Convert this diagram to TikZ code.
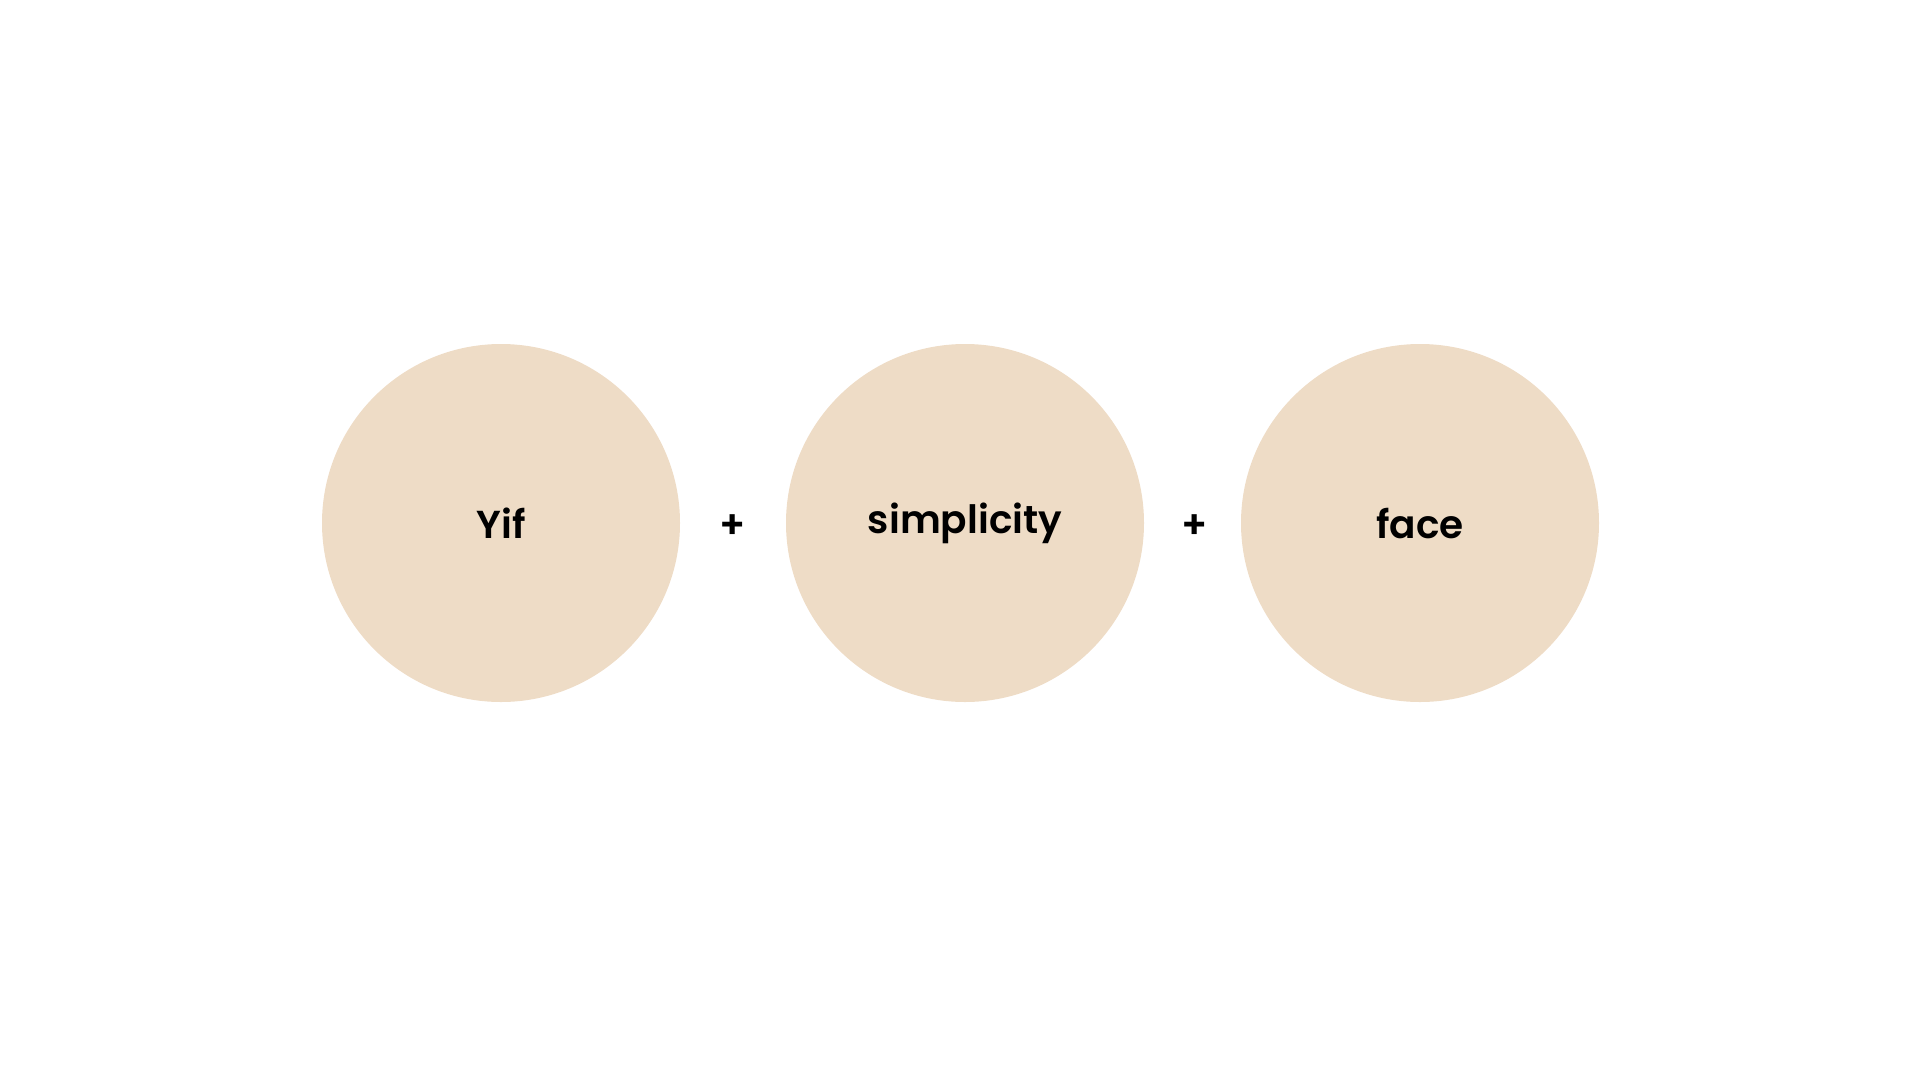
\documentclass[tikz,border=0pt]{standalone}
\usepackage{fontspec}
\setmainfont{Poppins}[UprightFont=* Medium, BoldFont=* SemiBold]
\usetikzlibrary{positioning}
\definecolor{sand}{RGB}{238,220,198}

\begin{document}
\begin{tikzpicture}[x=1pt, y=-1pt,
    bubble/.style={circle, fill=sand, minimum size=358pt, inner sep=0pt,
      font=\fontsize{39}{46}\selectfont\bfseries},
    plus/.style={font=\fontsize{39}{46}\selectfont\bfseries}]
      \useasboundingbox (0,0) rectangle (1920,1080);
      \node (yif) [bubble] at (501,523) {Yif};
      \node (simp) [bubble] at (965,523) {simplicity};
      \node (face) [bubble] at (1420,523) {face};

      \node (p1) [plus] at (733,527) {+};
      \node (p2) [plus] at (1195,527) {+};
    \end{tikzpicture}
\end{document}
